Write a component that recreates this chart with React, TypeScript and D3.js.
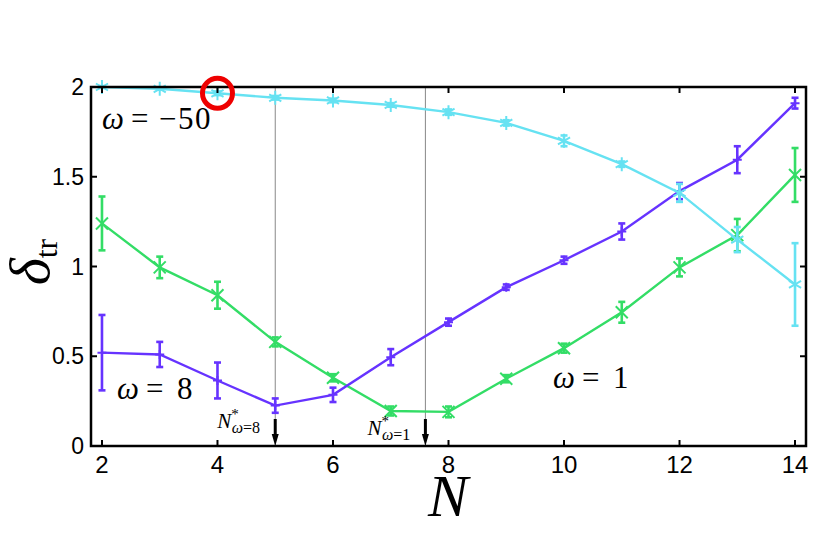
import React from "react";
import * as d3 from "d3";

const xs = [2, 3, 4, 5, 6, 7, 8, 9, 10, 11, 12, 13, 14];
const cyanVals = [2.0, 1.99, 1.965, 1.94, 1.925, 1.9, 1.86, 1.8, 1.7, 1.57, 1.41, 1.15, 0.9];
const cyanErr = [0.005, 0.005, 0.01, 0.01, 0.01, 0.01, 0.015, 0.015, 0.03, 0.015, 0.05, 0.07, 0.23];
const purpleVals = [0.52, 0.51, 0.365, 0.225, 0.285, 0.495, 0.69, 0.885, 1.035, 1.195, 1.42, 1.595, 1.91];
const purpleErr = [0.21, 0.07, 0.1, 0.04, 0.04, 0.045, 0.02, 0.015, 0.02, 0.045, 0.045, 0.075, 0.03];
const greenVals = [1.24, 0.995, 0.84, 0.58, 0.38, 0.195, 0.19, 0.375, 0.545, 0.745, 0.995, 1.175, 1.51];
const greenErr = [0.15, 0.06, 0.075, 0.025, 0.02, 0.025, 0.03, 0.02, 0.025, 0.058, 0.05, 0.09, 0.15];
const xTicks = [2, 4, 6, 8, 10, 12, 14];
const yTicks = [0, 0.5, 1, 1.5, 2];
const yTickLabels = ["0", "0.5", "1", "1.5", "2"];
const optimaX = [5, 7.6];
const optimaLabels = ["=8", "=1"];

const CYAN = "#66e2f2";
const PURPLE = "#6633ff";
const GREEN = "#33dd66";

const L = 91, R = 806, T = 87, B = 446;

export default function App() {
  const x = d3.scaleLinear().domain([1.81, 14.19]).range([L, R]);
  const y = d3.scaleLinear().domain([0, 2]).range([B, T]);
  const line = d3.line<number>().x((_, i) => x(xs[i])).y((v) => y(v));

  const serif = "'Liberation Serif', 'DejaVu Serif', serif";
  const sans = "'Liberation Sans', Arial, sans-serif";

  const errBars = (vals: number[], errs: number[], color: string) =>
    vals.map((v, i) => {
      const cx = x(xs[i]);
      const y1 = y(v + errs[i]);
      const y2 = y(v - errs[i]);
      return (
        <g key={i} stroke={color} strokeWidth={2.6}>
          <line x1={cx} x2={cx} y1={y1} y2={y2} />
          <line x1={cx - 3.5} x2={cx + 3.5} y1={y1} y2={y1} />
          <line x1={cx - 3.5} x2={cx + 3.5} y1={y2} y2={y2} />
        </g>
      );
    });

  const marker = (kind: string, cx: number, cy: number, color: string, key: number) => {
    let d = "";
    if (kind === "star") {
      const r = 7;
      const a = r * Math.sin(Math.PI / 3);
      const b = r * Math.cos(Math.PI / 3);
      d = `M${cx},${cy - r}L${cx},${cy + r}M${cx - a},${cy - b}L${cx + a},${cy + b}M${cx - a},${cy + b}L${cx + a},${cy - b}`;
    } else if (kind === "x") {
      const r = 6;
      d = `M${cx - r},${cy - r}L${cx + r},${cy + r}M${cx - r},${cy + r}L${cx + r},${cy - r}`;
    } else {
      const r = 4.5;
      d = `M${cx - r},${cy}L${cx + r},${cy}M${cx},${cy - r}L${cx},${cy + r}`;
    }
    return <path key={key} d={d} stroke={color} strokeWidth={2} fill="none" />;
  };

  const series = [
    { vals: greenVals, errs: greenErr, color: GREEN, kind: "x" },
    { vals: purpleVals, errs: purpleErr, color: PURPLE, kind: "plus" },
    { vals: cyanVals, errs: cyanErr, color: CYAN, kind: "star" },
  ];

  const omegaLabel = (x0: number, y0: number, rhs: string, gap: number) => (
    <g fontFamily={serif} fontSize={31}>
      <text x={x0} y={y0} fontStyle="italic">ω</text>
      <text x={x0 + 29} y={y0}>=</text>
      <text x={x0 + 29 + gap} y={y0} letterSpacing={1.5}>{rhs}</text>
    </g>
  );

  return (
    <svg width={830} height={555} style={{ position: "absolute", left: 0, top: 0, background: "#fff" }}>
      {optimaX.map((v, i) => (
        <line key={i} x1={x(v)} x2={x(v)} y1={T} y2={B} stroke="#888" strokeWidth={1} />
      ))}
      {series.map((s, si) => (
        <g key={si}>
          <path d={line(s.vals) || ""} fill="none" stroke={s.color} strokeWidth={2.4} />
          {errBars(s.vals, s.errs, s.color)}
          {s.vals.map((v, i) => marker(s.kind, x(xs[i]), y(v), s.color, i))}
        </g>
      ))}
      <rect x={L} y={T} width={R - L} height={B - T} fill="none" stroke="#000" strokeWidth={2.5} />
      {xTicks.map((t) => (
        <g key={t}>
          <line x1={x(t)} x2={x(t)} y1={B} y2={B - 6} stroke="#000" strokeWidth={2} />
          <line x1={x(t)} x2={x(t)} y1={T} y2={T + 6} stroke="#000" strokeWidth={2} />
          <text x={x(t)} y={B + 27} textAnchor="middle" fontFamily={sans} fontSize={24}>
            {t}
          </text>
        </g>
      ))}
      {yTicks.map((t, i) => (
        <g key={t}>
          <line x1={L} x2={L + 6} y1={y(t)} y2={y(t)} stroke="#000" strokeWidth={2} />
          <line x1={R} x2={R - 6} y1={y(t)} y2={y(t)} stroke="#000" strokeWidth={2} />
          <text x={L - 7} y={y(t) + 8} textAnchor="end" fontFamily={sans} fontSize={23}>
            {yTickLabels[i]}
          </text>
        </g>
      ))}
      {optimaX.map((v, i) => (
        <g key={i}>
          <line x1={x(v)} x2={x(v)} y1={419} y2={437} stroke="#000" strokeWidth={3} />
          <path d={`M${x(v) - 3.5},${434}L${x(v) + 3.5},${434}L${x(v)},${446}Z`} fill="#000" />
        </g>
      ))}
      {optimaX.map((v, i) => (
        <text key={i} x={x(v) - 58} y={i === 0 ? 428 : 435} fontFamily={serif} fontSize={21} fill="#000">
          <tspan fontStyle="italic">N</tspan>
          <tspan fontSize={15} dy={-9}>*</tspan>
          <tspan fontSize={16} dx={-7} dy={14} fontStyle="italic">ω</tspan>
          <tspan fontSize={16}>{optimaLabels[i]}</tspan>
        </text>
      ))}
      {omegaLabel(102, 129, "−50", 28)}
      {omegaLabel(117, 399, "8", 31)}
      {omegaLabel(553, 388, "1", 31)}
      <text x={448} y={516} textAnchor="middle" fontFamily={serif} fontStyle="italic" fontSize={60}>
        N
      </text>
      <text transform="translate(49,262) rotate(-90)" textAnchor="middle" fontFamily={serif} fontSize={58}>
        <tspan fontStyle="italic">δ</tspan>
        <tspan fontSize={32} dy={8}>tr</tspan>
      </text>
      <circle cx={x(4)} cy={y(1.965)} r={15} fill="none" stroke="#ee0000" strokeWidth={5} />
    </svg>
  );
}
